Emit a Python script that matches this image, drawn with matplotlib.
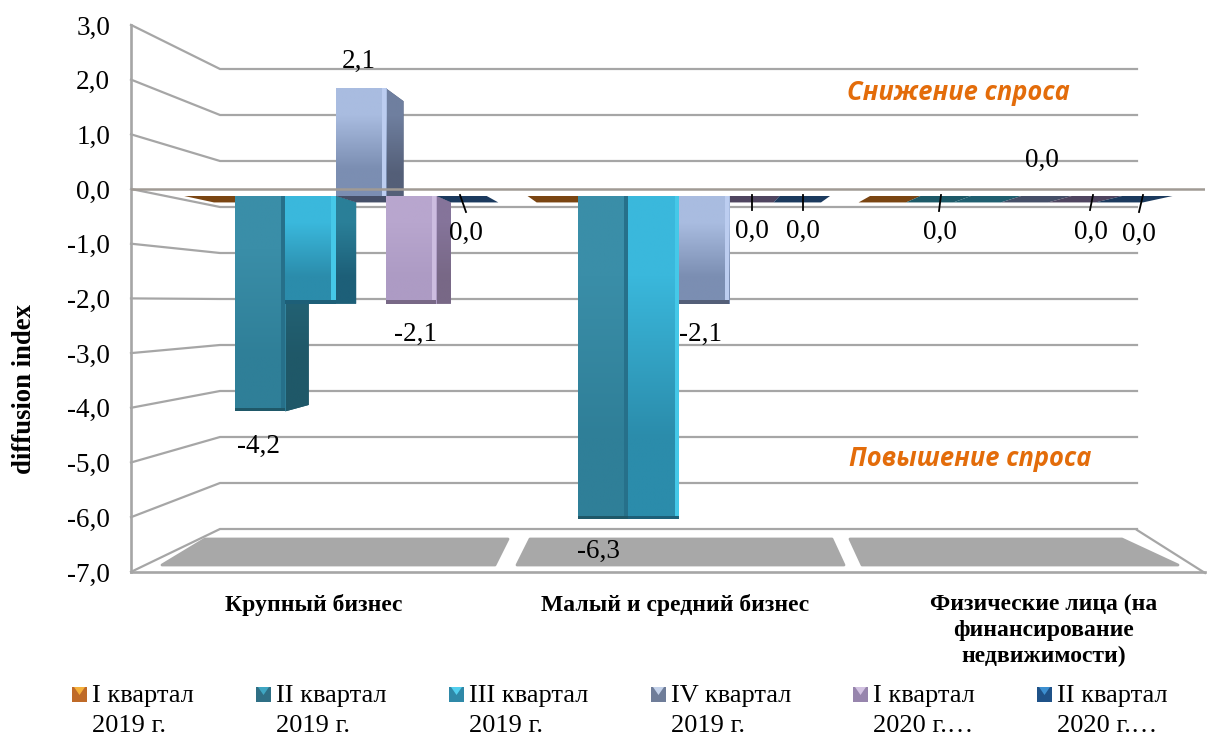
import numpy as np
import matplotlib
matplotlib.use("Agg")
import matplotlib.pyplot as plt
from matplotlib.colors import to_rgb
from matplotlib.patches import Polygon, Rectangle

plt.rcParams['font.family'] = ['Liberation Serif', 'DejaVu Sans']

# --- Data ---
categories = ["Крупный бизнес", "Малый и средний бизнес",
              "Физические лица (на\nфинансирование\nнедвижимости)"]
series_names = ["I квартал\n2019 г.", "II квартал\n2019 г.", "III квартал\n2019 г.",
                "IV квартал\n2019 г.", "I квартал\n2020 г.…", "II квартал\n2020 г.…"]
q1_2019 = [0.0, 0.0, 0.0]
q2_2019 = [-4.2, -6.3, 0.0]
q3_2019 = [-2.1, -6.3, 0.0]
q4_2019 = [2.1, -2.1, 0.0]
q1_2020 = [-2.1, 0.0, 0.0]
q2_2020 = [0.0, 0.0, 0.0]
all_series = [q1_2019, q2_2019, q3_2019, q4_2019, q1_2020, q2_2020]
y_ticks = [3, 2, 1, 0, -1, -2, -3, -4, -5, -6, -7]

# label text offset from the bar end in pixels, (series, category, dx, dy)
value_labels = [(1, 0, -1, 35), (3, 0, -2, -27), (4, 0, 4, 31), (5, 0, 4, 37),
                (1, 1, -5, 32), (3, 1, -4, 31), (4, 1, -2, 35), (5, 1, -2, 35),
                (1, 2, -6, 36), (3, 2, -5, -36), (4, 2, -6, 36), (5, 2, -8, 38)]

# --- Styles ---
W, H = 1211, 736
GRID = '#a6a6a6'
front_top = ['#c07a30', '#3a8ea8', '#3ab8dc', '#a9bce0', '#b8a6ce', '#2f6ea8']
front_bot = ['#8a5018', '#2f7f98', '#2b8cab', '#7b8eb2', '#ad9bc4', '#1c4a78']
side_top = ['#8a5018', '#266a7e', '#2a7f98', '#6f7f9f', '#85749a', '#1c3c60']
side_bot = ['#7a4a1a', '#1f5868', '#1d5f78', '#545f78', '#786886', '#1c3c60']
cap_col = ['#7a4512', '#1d5a68', '#1f5f70', '#454f68', '#4f4560', '#1b3a5e']
strip_col = ['#d89a50', '#26708a', '#45c8e8', '#bccdf0', '#cdbde0', '#3f80b8']
leg_top = ['#f5b13c', '#3fa6c2', '#52cfee', '#c4d2ea', '#d3c3e2', '#3c8fd0']
leg_bot = ['#bf6a28', '#2f6f85', '#2f89a8', '#6f7d99', '#9785ad', '#1f5288']

def box(x0, y0, x1, y1):
    return [x0 / W, 1 - y1 / H, (x1 - x0) / W, (y1 - y0) / H]

def gradient(c_top, c_bot):
    return np.array([[to_rgb(c_top)], [to_rgb(c_bot)]])

fig = plt.figure(figsize=(W / 100, H / 100), dpi=100, facecolor='white')

# --- Walls and floor, drawn in pixels ---
deco = fig.add_axes([0, 0, 1, 1], zorder=0)
deco.set_xlim(0, W)
deco.set_ylim(H, 0)
deco.axis('off')
for v in y_ticks:
    yf = 189 - 54.7 * v
    yb = 207 - 46.0 * v
    deco.plot([131, 220, 1137], [yf, yb, yb], color=GRID, lw=1.6, solid_joinstyle='miter')
deco.plot([1137, 1205], [530, 573], color=GRID, lw=1.6)

floor_parts = [[(205, 539), (508, 539), (495, 565), (162, 565)],
               [(530, 539), (832, 539), (844, 565), (517, 565)],
               [(850, 539), (1122, 539), (1178, 565), (862, 565)]]
for pts in floor_parts:
    deco.add_patch(Polygon(pts, closed=True, facecolor='#a8a8a8', edgecolor='#a8a8a8',
                           lw=2.0, joinstyle='round'))

# --- Bars ---
ax = fig.add_axes(box(167, 42.1, 1178, 555.1), zorder=1)
ax.patch.set_alpha(0)
ax.axis('off')
bar_w = 0.1496
k = 0.06
x_vp, y_vp = 1.02, -2.09

def back(x, y):
    return x + k * (x_vp - x), y + k * (y_vp - y)

x_pos = np.array([0.0, 1.0187, 2.035])
for s, vals in enumerate(all_series):
    for c, v in enumerate(vals):
        x0 = x_pos[c] + (s - 2.5) * bar_w - bar_w / 2
        x1 = x0 + bar_w
        ax.add_patch(Polygon([(x0, 0), (x1, 0), back(x1, 0), back(x0, 0)], closed=True,
                             facecolor=cap_col[s], edgecolor='none', zorder=2))
        if x1 < x_vp and v != 0:
            side = Polygon([(x1, 0), (x1, v), back(x1, v), back(x1, 0)], closed=True,
                           facecolor=side_bot[s], edgecolor='none', zorder=2)
            ax.add_patch(side)
            ys = [0, v, back(x1, v)[1], back(x1, 0)[1]]
            im = ax.imshow(gradient(side_top[s], side_bot[s]),
                           extent=[x1, back(x1, 0)[0], min(ys), max(ys)], aspect='auto',
                           interpolation='bilinear', zorder=2.5)
            im.set_clip_path(side)

for s, vals in enumerate(all_series):
    centers = x_pos + (s - 2.5) * bar_w
    bars = ax.bar(centers, vals, width=bar_w, color=front_bot[s], linewidth=0, zorder=3)
    for b, v in zip(bars, vals):
        if v == 0:
            continue
        im = ax.imshow(gradient(front_top[s], front_bot[s]),
                       extent=[b.get_x(), b.get_x() + bar_w, min(v, 0), max(v, 0)],
                       aspect='auto', interpolation='bilinear', zorder=3.5)
        im.set_clip_path(b)
        ax.bar(b.get_x() + bar_w * 0.96, v, width=bar_w * 0.08, color=strip_col[s],
               linewidth=0, zorder=4)
        if v < 0:
            # dark rim at the lower end of the bar
            ax.bar(b.get_x() + bar_w / 2, 0.07, bottom=v, width=bar_w, color=side_bot[s],
                   linewidth=0, zorder=4.5)
ax.set_xlim(-0.5, 2.5)
ax.set_ylim(-7, 3)

for s, c, dx, dy in value_labels:
    v = all_series[s][c]
    ax.annotate(f"{v:.1f}".replace('.', ','), xy=(x_pos[c] + (s - 2.5) * bar_w, v),
                xytext=(dx * 0.72, -dy * 0.72), textcoords='offset points',
                ha='center', va='center', fontsize=19.5, color='black', zorder=6)

# --- Front axis with the value scale ---
ax_f = fig.add_axes(box(131, 25, 1205, 572), zorder=2)
ax_f.patch.set_alpha(0)
ax_f.set_ylim(-7, 3)
ax_f.set_xlim(0, 1)
ax_f.set_yticks(y_ticks)
ax_f.set_yticklabels([f"{v:.1f}".replace('.', ',') for v in y_ticks], fontsize=19.5)
ax_f.set_xticks([])
ax_f.tick_params(axis='y', length=0, pad=15)
ax_f.axhline(0, color='#a09a94', lw=1.8, zorder=5)
for side_name in ['top', 'right']:
    ax_f.spines[side_name].set_visible(False)
for side_name in ['left', 'bottom']:
    ax_f.spines[side_name].set_color(GRID)
    ax_f.spines[side_name].set_linewidth(1.9)
ax_f.set_ylabel("diffusion index", fontsize=19.2, fontweight='bold', labelpad=0)
ax_f.yaxis.set_label_coords((37 - 131) / (1205 - 131), (572 - 389) / (572 - 25))

# --- Overlay: leader lines, captions, legend ---
top_ax = fig.add_axes([0, 0, 1, 1], zorder=3)
top_ax.patch.set_alpha(0)
top_ax.set_xlim(0, W)
top_ax.set_ylim(H, 0)
top_ax.axis('off')
leaders = [(460, 195, 466, 212), (752, 195, 752, 210), (803, 195, 803, 210),
           (941, 195, 939, 211), (1093, 195, 1090, 210), (1143, 195, 1139, 212)]
for xa, ya, xb, yb in leaders:
    top_ax.plot([xa, xb], [ya, yb], color='black', lw=1.3)

top_ax.text(958, 93, "Снижение спроса", color='#e36c0a', fontsize=18.4, fontweight='bold',
            fontstyle='italic', family='Open Sans', ha='center', va='center')
top_ax.text(970, 459, "Повышение спроса", color='#e36c0a', fontsize=18.4, fontweight='bold',
            fontstyle='italic', family='Open Sans', ha='center', va='center')

cat_x = [314, 675, 1044]
for name, xc in zip(categories, cat_x):
    top_ax.text(xc, 594, name, fontsize=17, fontweight='bold', ha='center', va='top',
                linespacing=1.3)

leg_x = [72, 256, 449, 651, 853, 1037]
for s, name in enumerate(series_names):
    xl = leg_x[s]
    top_ax.add_patch(Rectangle((xl, 687), 15, 15, facecolor=leg_bot[s], edgecolor='none'))
    top_ax.add_patch(Polygon([(xl + 2, 687), (xl + 13, 687), (xl + 7.5, 695)], closed=True,
                             facecolor=leg_top[s], edgecolor='none'))
    top_ax.text(xl + 20, 685, name, fontsize=19, ha='left', va='top', linespacing=1.5)

fig.savefig("out.png", dpi=100)
